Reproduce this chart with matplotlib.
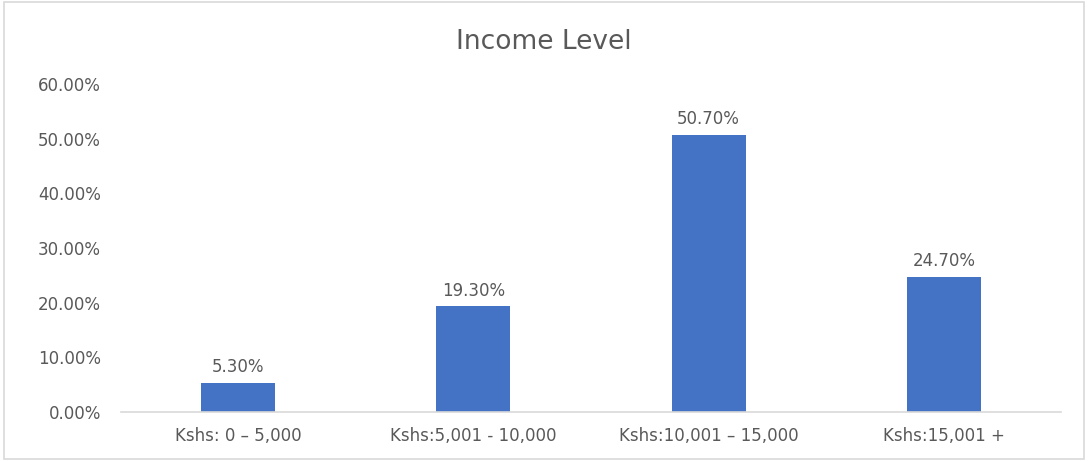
import matplotlib
matplotlib.use("Agg")
import matplotlib.pyplot as plt
from matplotlib.patches import Rectangle
from matplotlib.ticker import FuncFormatter

categories = ["Kshs: 0 – 5,000", "Kshs:5,001 - 10,000", "Kshs:10,001 – 15,000", "Kshs:15,001 +"]
values = [0.053, 0.193, 0.507, 0.247]
labels = ["5.30%", "19.30%", "50.70%", "24.70%"]
yticks = [0.0, 0.1, 0.2, 0.3, 0.4, 0.5, 0.6]

plt.rcParams['font.family'] = ['DejaVu Sans']

fig = plt.figure(figsize=(10.88, 4.61), dpi=100)
ax = fig.add_axes([0.1108, 0.1063, 0.8648, 0.7115])

x = list(range(len(categories)))
bars = ax.bar(x, values, width=0.315, color="#4472C4", zorder=2)
for xi, v, lab in zip(x, values, labels):
    ax.annotate(lab, (xi, v), xytext=(0, 5), textcoords="offset points",
                ha="center", va="bottom", fontsize=12, color="#595959")

ax.set_xlim(-0.5, len(categories) - 0.5)
ax.set_ylim(0, 0.6)
ax.set_yticks(yticks)
ax.yaxis.set_major_formatter(FuncFormatter(lambda v, p: f"{v*100:.2f}%"))
ax.set_xticks(x)
ax.set_xticklabels(categories)
ax.tick_params(axis="both", length=0, colors="#595959", labelsize=12)
ax.tick_params(axis="y", pad=14)
ax.tick_params(axis="x", pad=11)
for s in ["top", "right", "left"]:
    ax.spines[s].set_visible(False)
ax.spines["bottom"].set_color("#D9D9D9")
ax.spines["bottom"].set_linewidth(1.2)

fig.text(0.5, 0.908, "Income Level", ha="center", va="center", fontsize=19, color="#595959")

fig.patches.append(Rectangle((0.004, 0.004), 0.992, 0.992, transform=fig.transFigure,
                             fill=False, edgecolor="#D9D9D9", linewidth=1.2))

fig.savefig("out.png", dpi=100)
